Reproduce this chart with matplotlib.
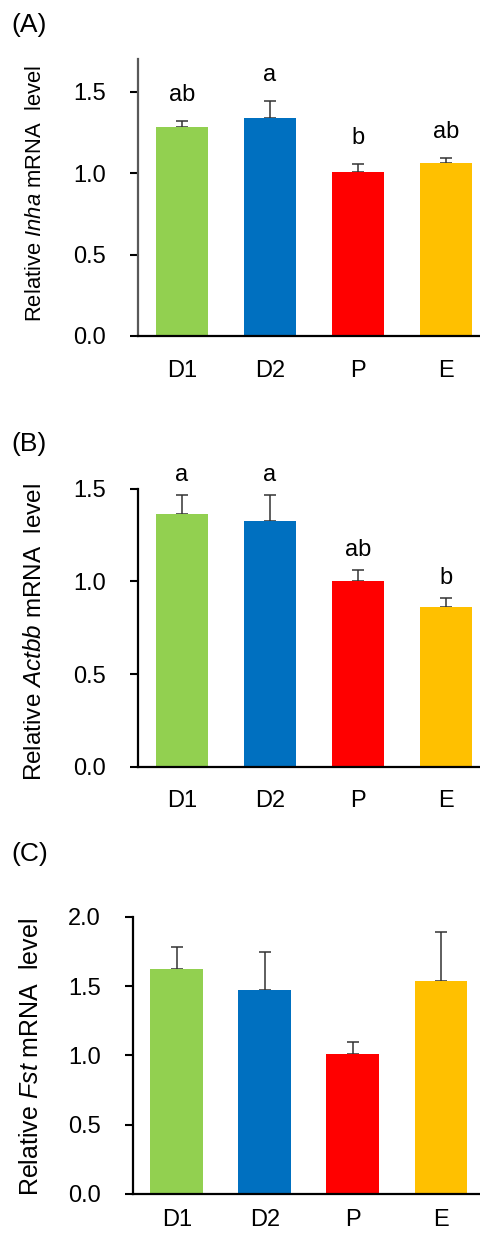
import matplotlib
matplotlib.use('Agg')

import matplotlib.pyplot as plt
import numpy as np

plt.rcParams['font.family'] = ['Liberation Sans', 'DejaVu Sans']
plt.rcParams['mathtext.fontset'] = 'custom'
plt.rcParams['mathtext.rm'] = 'Liberation Sans'
plt.rcParams['mathtext.it'] = 'Liberation Sans:italic'

groups = ['D1', 'D2', 'P', 'E']
bar_colors = ['#92D050', '#0070C0', '#FF0000', '#FFC000']

inha_mean = [1.28, 1.335, 1.005, 1.06]
inha_sem = [0.04, 0.11, 0.048, 0.03]
inha_letters = ['ab', 'a', 'b', 'ab']

actbb_mean = [1.362, 1.328, 1.0, 0.863]
actbb_sem = [0.103, 0.137, 0.062, 0.046]
actbb_letters = ['a', 'a', 'ab', 'b']

fst_mean = [1.621, 1.470, 1.010, 1.539]
fst_sem = [0.161, 0.276, 0.087, 0.353]

W, H = 481, 1234
fig = plt.figure(figsize=(W / 100, H / 100), dpi=100)

def px_axes(left, right, bottom, top):
        return fig.add_axes([left / W, 1 - bottom / H, (right - left) / W, (bottom - top) / H])

def draw_panel(ax, means, sems, gene, ymax, yticks, letters=None, letter_off=14, left_color='black',
               label_x=-0.27, label_y=0.5, label_size=15.5, xpad=17):
        x = np.arange(len(groups))
        ax.bar(x, means, width=0.6, color=bar_colors, zorder=2)
        ax.errorbar(x, means, yerr=[np.zeros(len(sems)), sems], fmt='none', ecolor='#333333',
                    elinewidth=1.1, capsize=4, capthick=1.1, zorder=1)
        if letters is not None:
                for xi, m, s, lab in zip(x, means, sems, letters):
                        ax.annotate(lab, (xi, m + s), xytext=(0, letter_off * 0.72), textcoords='offset points',
                                    ha='center', va='baseline', fontsize=17)
        ax.set_xlim(-0.5, 3.5)
        ax.set_ylim(0, ymax)
        ax.set_yticks(yticks)
        ax.set_yticklabels(['%.1f' % t for t in yticks])
        ax.set_xticks(x)
        ax.set_xticklabels(groups)
        ax.tick_params(axis='y', length=6, width=1.5, pad=17, labelsize=17)
        ax.tick_params(axis='x', length=0, pad=xpad, labelsize=17)
        for side in ['top', 'right']:
                ax.spines[side].set_visible(False)
        ax.spines['left'].set_color(left_color)
        ax.spines['left'].set_linewidth(1.6)
        ax.spines['bottom'].set_linewidth(1.6)
        ax.set_ylabel(r'Relative $\it{' + gene + r'}$ mRNA  level', fontsize=label_size)
        ax.yaxis.set_label_coords(label_x, label_y)

ax_a = px_axes(138, 490, 336, 59)
draw_panel(ax_a, inha_mean, inha_sem, 'Inha', 1.7, [0.0, 0.5, 1.0, 1.5], inha_letters,
           letter_off=20, left_color='#595959', label_x=-0.262, label_y=0.515, label_size=15.8)

ax_b = px_axes(138, 490, 766.7, 488.7)
draw_panel(ax_b, actbb_mean, actbb_sem, 'Actbb', 1.5, [0.0, 0.5, 1.0, 1.5], actbb_letters,
           letter_off=14, label_x=-0.262, label_y=0.486, label_size=17.5)

ax_c = px_axes(132.7, 485, 1194, 916.7)
draw_panel(ax_c, fst_mean, fst_sem, 'Fst', 2.0, [0.0, 0.5, 1.0, 1.5, 2.0],
           label_x=-0.255, label_y=0.495, label_size=18, xpad=11)

for lab, top in [('(A)', 13), ('(B)', 432), ('(C)', 842)]:
        fig.text(11 / W, 1 - top / H, lab, ha='left', va='top', fontsize=19)

fig.savefig('out.png', dpi=100)
